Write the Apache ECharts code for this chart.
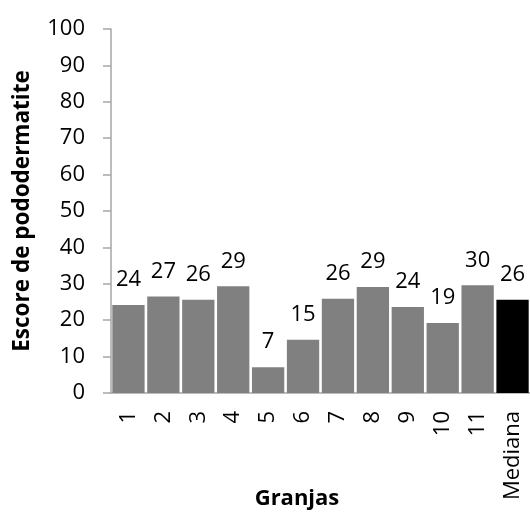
<!DOCTYPE html>
<html><head><meta charset="utf-8">
<script src="https://cdn.jsdelivr.net/npm/echarts@6/dist/echarts.min.js"></script>
<style>html,body{margin:0;padding:0;background:#fff}#c{width:530px;height:516px}</style>
</head><body><div id="c"></div>
<script>
const categories = ['1','2','3','4','5','6','7','8','9','10','11','Mediana'];
const values = [24.2, 26.5, 25.6, 29.3, 7.1, 14.6, 25.9, 29.1, 23.6, 19.2, 29.6, 25.6];
const barColors = ['#808080','#808080','#808080','#808080','#808080','#808080','#808080','#808080','#808080','#808080','#808080','#000000'];
const yTicks = [0,10,20,30,40,50,60,70,80,90,100];
const yTitle = 'Escore de pododermatite';
const xTitle = 'Granjas';
const FONT = '"Open Sans", sans-serif';
const chart = echarts.init(document.getElementById('c'), null, {renderer:'canvas'});
chart.setOption({
  animation:false,
  grid:{left:111,right:0,top:29,bottom:123,containLabel:false,outerBoundsMode:'none'},
  xAxis:{type:'category',data:categories,
    axisLine:{lineStyle:{color:'#a6a6a6',width:1.5}},
    axisTick:{show:false},
    axisLabel:{rotate:90,margin:18,color:'#000',fontFamily:FONT,fontSize:22,interval:0}},
  yAxis:{type:'value',min:yTicks[0],max:yTicks[yTicks.length-1],interval:10,
    name:yTitle,nameLocation:'middle',nameGap:77,nameRotate:90,
    nameTextStyle:{color:'#000',fontFamily:FONT,fontSize:22.5,fontWeight:'bold'},
    axisLine:{show:true,lineStyle:{color:'#a6a6a6',width:1.5}},
    axisTick:{show:true,length:8,lineStyle:{color:'#a6a6a6',width:1.5}},
    splitLine:{show:false},
    axisLabel:{margin:26,color:'#000',fontFamily:FONT,fontSize:22}},
  graphic:[{type:'text',style:{text:xTitle,font:'bold 22px '+FONT,fill:'#000',textAlign:'center',textVerticalAlign:'middle',x:297,y:499}}],
  series:[{type:'bar',barCategoryGap:'7.5%',
    data:values.map((v,i)=>({value:v,itemStyle:{color:barColors[i]}})),
    label:{show:true,position:'top',distance:14,color:'#000',fontFamily:FONT,fontSize:22,
      formatter:p=>String(Math.round(p.value))}}]
});
</script></body></html>
